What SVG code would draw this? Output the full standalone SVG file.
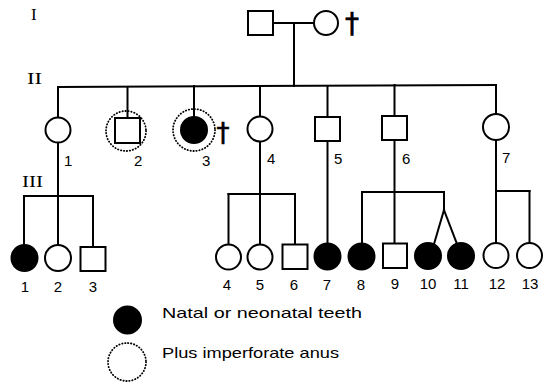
<svg xmlns="http://www.w3.org/2000/svg" width="550" height="385" viewBox="0 0 550 385">
<style>
  .bg { fill: #ffffff; }
  .line { stroke: #000; stroke-width: 2; fill: none; stroke-linecap: square; }
  .open { fill: #fff; stroke: #000; stroke-width: 2; }
  .aff { fill: #000; stroke: #000; stroke-width: 2; }
  .dot { fill: none; stroke: #000; stroke-width: 1.8; stroke-dasharray: 0.4 2.6; stroke-linecap: round; }
  .num { font-family: "Liberation Sans", Arial, sans-serif; font-size: 15px; fill: #000; }
  .numc { font-family: "Liberation Sans", Arial, sans-serif; font-size: 15px; fill: #000; text-anchor: middle; }
  .gen { font-family: "Liberation Serif", "Times New Roman", serif; font-size: 17px; fill: #000; }
  .dag { font-family: "DejaVu Sans", "Liberation Sans", sans-serif; font-size: 28px; fill: #000; stroke: #000; stroke-width: 0.6; text-anchor: middle; }
  .leg { font-family: "Liberation Sans", Arial, sans-serif; font-size: 15px; fill: #000; }
</style>
<rect class="bg" x="0" y="0" width="550" height="385"/>

<!-- generation labels -->
<text class="gen" x="31" y="20">I</text>
<text class="gen" x="27" y="84" textLength="15" lengthAdjust="spacingAndGlyphs">II</text>
<text class="gen" x="22" y="187" textLength="21" lengthAdjust="spacingAndGlyphs">III</text>

<!-- connectors -->
<g id="connectors">
  <line class="line" x1="273" y1="23" x2="314" y2="23"/>
  <line class="line" x1="294" y1="23" x2="294" y2="86"/>
  <line class="line" x1="58" y1="87" x2="496" y2="85"/>
  <line class="line" x1="58" y1="87" x2="58" y2="117"/>
  <line class="line" x1="127.5" y1="87" x2="127.5" y2="118"/>
  <line class="line" x1="194" y1="86" x2="194" y2="117"/>
  <line class="line" x1="260" y1="86" x2="260" y2="116"/>
  <line class="line" x1="327.5" y1="86" x2="327.5" y2="117"/>
  <line class="line" x1="394.5" y1="85" x2="394.5" y2="116"/>
  <line class="line" x1="496" y1="85" x2="496" y2="114"/>
  <!-- II-1 offspring -->
  <line class="line" x1="58" y1="143" x2="58" y2="196"/>
  <line class="line" x1="24" y1="196" x2="93" y2="196"/>
  <line class="line" x1="24" y1="196" x2="24" y2="244"/>
  <line class="line" x1="58" y1="196" x2="58" y2="244"/>
  <line class="line" x1="93" y1="196" x2="93" y2="247"/>
  <!-- II-4 offspring -->
  <line class="line" x1="260" y1="142" x2="260" y2="194"/>
  <line class="line" x1="228.5" y1="194" x2="295" y2="194"/>
  <line class="line" x1="228.5" y1="194" x2="228.5" y2="244"/>
  <line class="line" x1="260" y1="194" x2="260" y2="244"/>
  <line class="line" x1="295" y1="194" x2="295" y2="244"/>
  <!-- II-5 offspring -->
  <line class="line" x1="327.5" y1="141" x2="327.5" y2="243"/>
  <!-- II-6 offspring -->
  <line class="line" x1="394.5" y1="140" x2="394.5" y2="243"/>
  <line class="line" x1="362" y1="192" x2="444" y2="192"/>
  <line class="line" x1="362" y1="192" x2="362" y2="243"/>
  <line class="line" x1="444" y1="192" x2="444" y2="210"/>
  <line class="line" x1="444" y1="210" x2="434" y2="244"/>
  <line class="line" x1="444" y1="210" x2="457" y2="244"/>
  <!-- II-7 offspring -->
  <line class="line" x1="496" y1="140" x2="496" y2="243"/>
  <line class="line" x1="496" y1="191" x2="529.5" y2="191"/>
  <line class="line" x1="529.5" y1="191" x2="529.5" y2="243"/>
</g>

<!-- generation I -->
<g id="I-1"><rect class="open" x="248" y="11" width="25" height="24"/></g>
<g id="I-2">
  <circle class="open" cx="326" cy="23" r="12"/>
  <text class="dag" x="352" y="33">†</text>
</g>

<!-- generation II -->
<g id="II-1">
  <circle class="open" cx="58" cy="130" r="12.5"/>
  <text class="num" x="64" y="166">1</text>
</g>
<g id="II-2">
  <circle class="dot" cx="126" cy="131" r="20"/>
  <rect class="open" x="115" y="118" width="25" height="25"/>
  <text class="num" x="134" y="166">2</text>
</g>
<g id="II-3">
  <circle class="dot" cx="194" cy="130" r="21"/>
  <circle class="aff" cx="194" cy="130" r="13"/>
  <text class="dag" x="223" y="142" style="font-size:26px">†</text>
  <text class="num" x="202" y="166">3</text>
</g>
<g id="II-4">
  <circle class="open" cx="260" cy="129" r="12.5"/>
  <text class="num" x="267" y="164">4</text>
</g>
<g id="II-5">
  <rect class="open" x="315" y="117" width="25" height="24"/>
  <text class="num" x="334" y="164">5</text>
</g>
<g id="II-6">
  <rect class="open" x="382" y="116" width="25" height="24"/>
  <text class="num" x="402" y="164">6</text>
</g>
<g id="II-7">
  <circle class="open" cx="496" cy="127" r="13"/>
  <text class="num" x="502" y="163">7</text>
</g>

<!-- generation III -->
<g id="III-1"><circle class="aff" cx="24.5" cy="258" r="13"/><text class="numc" x="25" y="292">1</text></g>
<g id="III-2"><circle class="open" cx="58" cy="258" r="13"/><text class="numc" x="58" y="292">2</text></g>
<g id="III-3"><rect class="open" x="80.5" y="247" width="25" height="24"/><text class="numc" x="93" y="292">3</text></g>
<g id="III-4"><circle class="open" cx="228.5" cy="257" r="12.5"/><text class="numc" x="227" y="290">4</text></g>
<g id="III-5"><circle class="open" cx="260" cy="257" r="12.5"/><text class="numc" x="260" y="290">5</text></g>
<g id="III-6"><rect class="open" x="282.5" y="244.5" width="25" height="24.5"/><text class="numc" x="294" y="290">6</text></g>
<g id="III-7"><circle class="aff" cx="327.5" cy="256.5" r="13"/><text class="numc" x="327" y="290">7</text></g>
<g id="III-8"><circle class="aff" cx="361.5" cy="256.5" r="13"/><text class="numc" x="361" y="290">8</text></g>
<g id="III-9"><rect class="open" x="383" y="243.5" width="24" height="24.5"/><text class="numc" x="395" y="289">9</text></g>
<g id="III-10"><circle class="aff" cx="428" cy="256" r="13"/><text class="numc" x="428" y="289">10</text></g>
<g id="III-11"><circle class="aff" cx="461" cy="256" r="13"/><text class="numc" x="461" y="289">11</text></g>
<g id="III-12"><circle class="open" cx="496" cy="255.5" r="12.5"/><text class="numc" x="497" y="289">12</text></g>
<g id="III-13"><circle class="open" cx="529.5" cy="255.5" r="12.5"/><text class="numc" x="530" y="289">13</text></g>

<!-- legend -->
<g id="legend-teeth">
  <circle class="aff" cx="127.5" cy="320" r="13.5"/>
  <text class="leg" x="162" y="318" textLength="200" lengthAdjust="spacingAndGlyphs">Natal or neonatal teeth</text>
</g>
<g id="legend-anus">
  <circle class="dot" cx="127" cy="362" r="19"/>
  <text class="leg" x="162" y="358" textLength="177" lengthAdjust="spacingAndGlyphs">Plus imperforate anus</text>
</g>
</svg>
